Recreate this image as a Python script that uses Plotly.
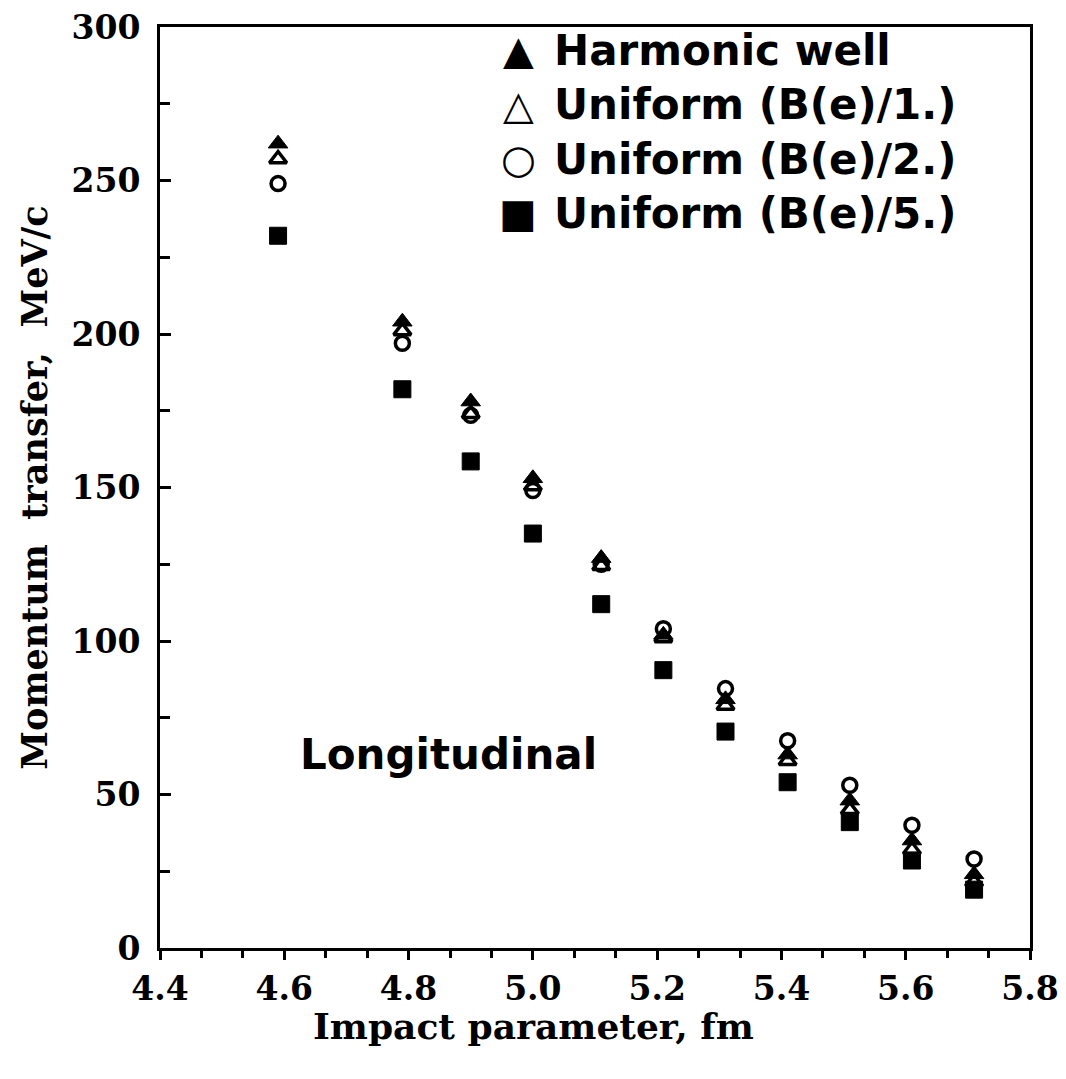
import plotly.graph_objects as go

# Data
b = [4.59, 4.79, 4.90, 5.00, 5.11, 5.21, 5.31, 5.41, 5.51, 5.61, 5.71]
harmonic = [262, 204, 178, 153, 127, 102, 81, 63, 48, 35, 24]
uniform1 = [257, 201, 174, 150.5, 124.5, 101, 79, 61, 45, 32, 21.5]
uniform2 = [249, 197, 173.5, 149, 125, 104, 84.5, 67.5, 53, 40, 29]
uniform5 = [232, 182, 158.5, 135, 112, 90.5, 70.5, 54, 41, 28.5, 19]

series_names = ["Harmonic well", "Uniform (B(e)/1.)",
                "Uniform (B(e)/2.)", "Uniform (B(e)/5.)"]
legend_glyphs = ["▲", "△", "○", "■"]

x_ticks = [4.4, 4.6, 4.8, 5.0, 5.2, 5.4, 5.6, 5.8]
y_ticks = [0, 50, 100, 150, 200, 250, 300]

SANS = "'DejaVu Sans', sans-serif"
SERIF = "'DejaVu Serif', 'Liberation Serif', serif"

# page body has an 8px margin; figure sized to fill the 1066x1079 window
OFF = 8
W, H = 1066 - 2 * OFF, 1079 - 2 * OFF
ML, MT = 160 - OFF, 27 - OFF
MR = W - (1030 - OFF)
MB = H - (948 - OFF)
PW, PH = W - ML - MR, H - MT - MB


def px_x(sx):
    return (sx - OFF - ML) / PW


def px_y(sy):
    return 1 - (sy - OFF - MT) / PH


fig = go.Figure()
styles = [
    ("triangle-up", 17, 1),
    ("triangle-up-open", 15, 3.5),
    ("circle-open", 14, 3.5),
    ("square", 17, 1),
]
for name, ys, (sym, sz, lw) in zip(series_names,
                                   [harmonic, uniform1, uniform2, uniform5],
                                   styles):
    fig.add_trace(go.Scatter(
        x=b, y=ys, mode="markers", name=name,
        marker=dict(symbol=sym, size=sz, color="black",
                    line=dict(color="black", width=lw)),
    ))

# Legend drawn as text, top right
for i, (g, name) in enumerate(zip(legend_glyphs, series_names)):
    sy = 50 + 54.5 * i
    fig.add_annotation(x=px_x(518), y=px_y(sy), xref="paper", yref="paper",
                       text=g, showarrow=False, xanchor="center",
                       yanchor="middle",
                       font=dict(family=SANS, size=40, color="black"))
    fig.add_annotation(x=px_x(552), y=px_y(sy), xref="paper", yref="paper",
                       text=name, showarrow=False, xanchor="left",
                       yanchor="middle",
                       font=dict(family=SANS, size=42, color="black",
                                 weight="bold"))

fig.add_annotation(x=4.864, y=63, xref="x", yref="y", text="Longitudinal",
                   showarrow=False,
                   font=dict(family=SANS, size=42, color="black",
                             weight="bold"))

# x-axis title (offset left of centre as in the reference)
fig.add_annotation(x=px_x(533), y=px_y(1026),
                   xref="paper", yref="paper", text="Impact parameter, fm",
                   showarrow=False, xanchor="center", yanchor="middle",
                   font=dict(family=SERIF, size=36, color="black",
                             weight="bold"))

fig.update_layout(
    width=W, height=H,
    margin=dict(l=ML, r=MR, t=MT, b=MB, autoexpand=False),
    paper_bgcolor="white", plot_bgcolor="white",
    showlegend=False,
)
fig.update_xaxes(
    range=[4.4, 5.8], tickvals=x_ticks, tickformat=".1f",
    showline=True, linecolor="black", linewidth=3, mirror=True,
    ticks="outside", ticklen=9, tickwidth=3, tickcolor="black",
    minor=dict(dtick=0.2 / 3, tick0=4.4, ticks="outside", ticklen=7,
               tickwidth=2.5, tickcolor="black"),
    showgrid=False, zeroline=False, automargin=False,
    ticklabeloverflow="allow",
    tickfont=dict(family=SERIF, size=33, color="black", weight="bold"),
)
fig.update_yaxes(
    range=[0, 300], tickvals=y_ticks,
    showline=True, linecolor="black", linewidth=3, mirror=True,
    ticks="inside", ticklen=11, tickwidth=3, tickcolor="black",
    minor=dict(dtick=25, ticks="inside", ticklen=10, tickwidth=2.5,
               tickcolor="black"),
    showgrid=False, zeroline=False, automargin=False,
    ticklabeloverflow="allow",
    ticklabelstandoff=10,
    tickfont=dict(family=SERIF, size=33, color="black", weight="bold"),
    title=dict(text="Momentum  transfer,  MeV/c", standoff=14,
               font=dict(family=SERIF, size=35, color="black",
                         weight="bold")),
)

fig.write_html("out.html")
